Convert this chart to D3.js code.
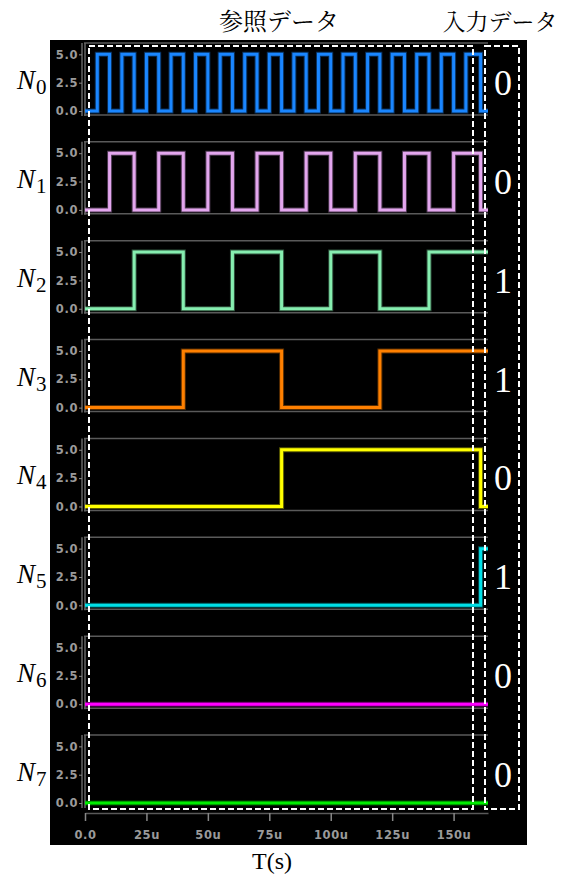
<!DOCTYPE html>
<html>
<head>
<meta charset="utf-8">
<script src="https://cdn.jsdelivr.net/npm/d3@7"></script>
<style>
    body { margin: 0; background: #fff; }
</style>
</head>
<body>
<svg id="chart"></svg>
<script>
// signal names and colors
const signals = ["0", "1", "2", "3", "4", "5", "6", "7"];
const colors = ["#1a86ff", "#e3a6ee", "#86eeb0", "#ff8000", "#ffff00", "#00e0e8", "#ff00ff", "#00ee00"];

// toggle times (us) per signal, every signal starts low
const edges = [
    [5, 10, 15, 20, 25, 30, 35, 40, 45, 50, 55, 60, 65, 70, 75, 80, 85, 90, 95, 100, 105, 110, 115, 120, 125, 130, 135, 140, 145, 150, 155, 161],
    [10, 20, 30, 40, 50, 60, 70, 80, 90, 100, 110, 120, 130, 140, 150, 161],
    [20, 40, 60, 80, 100, 120, 140],
    [40, 80, 120],
    [80, 161],
    [161],
    [],
    []
];

// input data column
const inputBits = ["0", "0", "1", "1", "0", "1", "0", "0"];

// axis ticks
const voltTicks = [0, 2.5, 5.0];
const timeTicks = [0, 25, 50, 75, 100, 125, 150];
const timeTickLabels = ["0.0", "25u", "50u", "75u", "100u", "125u", "150u"];
const tEnd = 164;
const highVolt = 5.0;

// fonts
const serifFont = '"Liberation Serif"';
const scopeFont = '"DejaVu Sans"';
const cjkFont = '"Noto Serif CJK JP"';

// svg size
const width = 568;
const height = 877;

const svg = d3.select("#chart")
    .attr("width", width)
    .attr("height", height);

svg.append("rect")
    .attr("width", width).attr("height", height)
    .attr("fill", "#fff");

// black scope background
svg.append("rect")
    .attr("x", 50).attr("y", 40)
    .attr("width", 477).attr("height", 805)
    .attr("fill", "#000");

// scales
const x = d3.scaleLinear().domain([0, tEnd]).range([85, 488]);
const panelTop0 = 43;
const panelStep = 98.86;
const panelH = 72;

signals.forEach((name, i) => {
    const top = panelTop0 + i * panelStep;
    const y = d3.scaleLinear().domain([-0.35, 6]).range([top + panelH, top]);
    const g = svg.append("g");

    // panel top and bottom gray lines
    g.append("line")
        .attr("x1", 84).attr("x2", 488)
        .attr("y1", top).attr("y2", top)
        .attr("stroke", "#5a5a5a").attr("stroke-width", 1.5);
    if (i < signals.length - 1) {
        g.append("line")
            .attr("x1", 84).attr("x2", 488)
            .attr("y1", top + panelH).attr("y2", top + panelH)
            .attr("stroke", "#5a5a5a").attr("stroke-width", 1.5);
    }

    // voltage axis
    const ax = g.append("g")
        .attr("transform", "translate(82,0)")
        .call(d3.axisLeft(y).tickValues(voltTicks).tickFormat(d3.format(".1f"))
            .tickSize(3).tickSizeOuter(0));
    ax.select(".domain").attr("stroke", "#666").attr("stroke-width", 1.5)
        .attr("d", `M0,${top}V${top + panelH + 1}`);
    ax.selectAll(".tick line").attr("stroke", "#888");
    ax.selectAll(".tick text")
        .attr("fill", "#9a9a9a")
        .attr("x", -4)
        .style("font-family", scopeFont)
        .style("font-weight", "bold")
        .style("font-size", "11.5px")
        .style("letter-spacing", "0.6px");
    g.append("line")
        .attr("x1", 85).attr("x2", 85)
        .attr("y1", top).attr("y2", top + panelH + 1)
        .attr("stroke", "#666").attr("stroke-width", 1.5);

    // waveform
    let level = 0;
    const pts = [[0, 0]];
    edges[i].forEach(t => {
        level = 1 - level;
        pts.push([t, level]);
    });
    pts.push([tEnd, level]);

    const line = d3.line()
        .x(d => x(d[0]))
        .y(d => y(d[1] * highVolt))
        .curve(d3.curveStepAfter);

    g.append("path")
        .attr("d", line(pts))
        .attr("fill", "none")
        .attr("stroke", colors[i])
        .attr("stroke-opacity", 0.35)
        .attr("stroke-width", 5);
    g.append("path")
        .attr("d", line(pts))
        .attr("fill", "none")
        .attr("stroke", colors[i])
        .attr("stroke-width", 3);

    // left label N_i
    const lab = svg.append("text")
        .attr("x", 17)
        .attr("y", top + 46)
        .style("font-family", serifFont)
        .attr("fill", "#000");
    lab.append("tspan")
        .style("font-style", "italic")
        .style("font-size", "27px")
        .text("N");
    lab.append("tspan")
        .style("font-size", "21px")
        .attr("dy", 5)
        .attr("dx", 1)
        .text(name);

    // input data digit
    svg.append("text")
        .attr("x", 503)
        .attr("y", top + 52)
        .attr("text-anchor", "middle")
        .style("font-family", serifFont)
        .style("font-size", "36px")
        .attr("fill", "#fff")
        .text(inputBits[i]);
});

// time axis
const tAxis = svg.append("g")
    .attr("transform", "translate(0,813)")
    .call(d3.axisBottom(x).tickValues(timeTicks)
        .tickFormat((d, i) => timeTickLabels[i])
        .tickSize(8).tickSizeOuter(0));
tAxis.select(".domain").attr("stroke", "#5a5a5a").attr("stroke-width", 1.5);
tAxis.selectAll(".tick line").attr("stroke", "#888").attr("stroke-width", 1.5);
tAxis.selectAll(".tick text")
    .attr("fill", "#9a9a9a")
    .attr("y", 18)
    .style("font-family", scopeFont)
    .style("font-weight", "bold")
    .style("font-size", "11.5px")
    .style("letter-spacing", "0.6px");

// dashed boxes
svg.append("rect")
    .attr("x", 89).attr("y", 46)
    .attr("width", 384).attr("height", 763)
    .attr("fill", "none")
    .attr("stroke", "#fff").attr("stroke-width", 2)
    .attr("stroke-dasharray", "6,3");
svg.append("rect")
    .attr("x", 485).attr("y", 46)
    .attr("width", 34).attr("height", 763)
    .attr("fill", "none")
    .attr("stroke", "#fff").attr("stroke-width", 2)
    .attr("stroke-dasharray", "6,3");

// titles
svg.append("text")
    .attr("x", 279).attr("y", 30)
    .attr("text-anchor", "middle")
    .style("font-family", cjkFont)
    .style("font-size", "24px")
    .text("参照データ");
svg.append("text")
    .attr("x", 500).attr("y", 30)
    .attr("text-anchor", "middle")
    .style("font-family", cjkFont)
    .style("font-size", "23px")
    .text("入力データ");

// x axis title
svg.append("text")
    .attr("x", 272).attr("y", 869)
    .attr("text-anchor", "middle")
    .style("font-family", serifFont)
    .style("font-size", "24px")
    .text("T(s)");
</script>
</body>
</html>
